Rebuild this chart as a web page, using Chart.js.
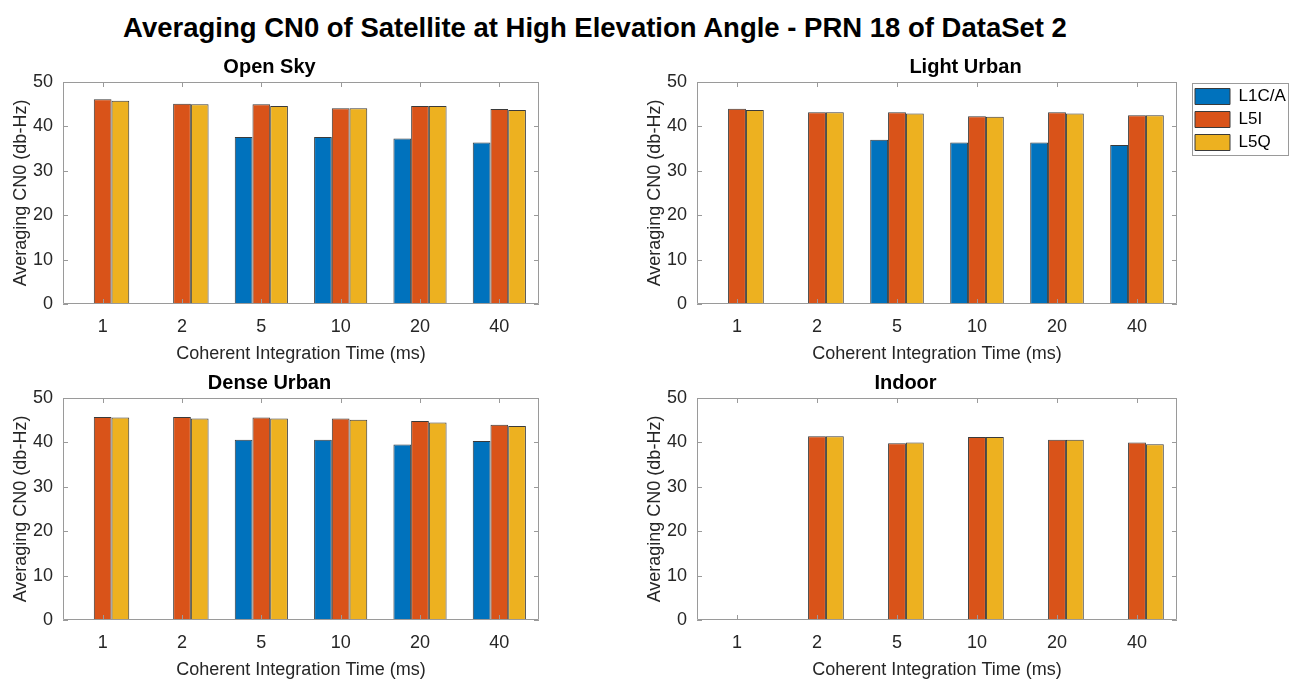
<!DOCTYPE html>
<html>
<head>
<meta charset="utf-8">
<script src="https://cdn.jsdelivr.net/npm/chart.js@4.4.1/dist/chart.umd.min.js"></script>
<style>
  body { margin: 0; background: #fff; width: 1297px; height: 684px; overflow: hidden; position: relative; }
  #title { position: absolute; left: 0; top: 12px; width: 1190px; text-align: center;
    font: bold 27.5px "Liberation Sans", Arial, sans-serif; line-height: 32px; color: #000; }
  .panel { position: absolute; }
</style>
</head>
<body>
<div id="title">Averaging CN0 of Satellite at High Elevation Angle - PRN 18 of DataSet 2</div>
<div class="panel" style="left:0px;top:38px"><canvas id="openSky" width="560" height="328"></canvas></div>
<div class="panel" style="left:634px;top:38px"><canvas id="lightUrban" width="663" height="328"></canvas></div>
<div class="panel" style="left:0px;top:354px"><canvas id="denseUrban" width="560" height="328"></canvas></div>
<div class="panel" style="left:634px;top:354px"><canvas id="indoor" width="663" height="328"></canvas></div>
<script>
// integration times (ms)
const categories = ["1", "2", "5", "10", "20", "40"];
const seriesNames = ["L1C/A", "L5I", "L5Q"];
const seriesColors = ["#0072BD", "#D95319", "#EDB120"];

const openSkyL1 = [null, null, 37.6, 37.6, 37.3, 36.4];
const openSkyL5I = [46.1, 45.1, 45.0, 44.1, 44.6, 43.9];
const openSkyL5Q = [45.8, 45.0, 44.6, 44.1, 44.6, 43.7];

const lightUrbanL1 = [null, null, 37.0, 36.4, 36.4, 35.8];
const lightUrbanL5I = [44.0, 43.2, 43.2, 42.3, 43.2, 42.5];
const lightUrbanL5Q = [43.7, 43.2, 42.9, 42.2, 42.9, 42.5];

const denseUrbanL1 = [null, null, 40.6, 40.6, 39.5, 40.3];
const denseUrbanL5I = [45.7, 45.7, 45.6, 45.4, 44.8, 44.0];
const denseUrbanL5Q = [45.6, 45.4, 45.4, 45.1, 44.5, 43.7];

const indoorL1 = [null, null, null, null, null, null];
const indoorL5I = [null, 41.4, 39.8, 41.2, 40.6, 40.0];
const indoorL5Q = [null, 41.4, 40.0, 41.2, 40.6, 39.6];

const yTicks = [0, 10, 20, 30, 40, 50];

const FONT = "'Liberation Sans', Arial, sans-serif";
const AXIS_COLOR = "#9a9a9a";
const TEXT_COLOR = "#262626";

// matlab style box + inward tick marks
const boxPlugin = {
  id: "matlabBox",
  afterDatasetsDraw(chart) {
    const { ctx, chartArea: a, scales } = chart;
    ctx.save();
    ctx.strokeStyle = AXIS_COLOR;
    ctx.lineWidth = 1;
    ctx.beginPath();
    ctx.rect(a.left + 0.5, a.top + 0.5, a.right - a.left - 1, a.bottom - a.top - 1);
    scales.x.ticks.forEach((t, i) => {
      const x = Math.round(scales.x.getPixelForTick(i)) + 0.5;
      ctx.moveTo(x, a.bottom); ctx.lineTo(x, a.bottom - 5);
      ctx.moveTo(x, a.top); ctx.lineTo(x, a.top + 5);
    });
    scales.y.ticks.forEach((t, i) => {
      const y = Math.round(scales.y.getPixelForTick(i)) + 0.5;
      ctx.moveTo(a.left, y); ctx.lineTo(a.left + 5, y);
      ctx.moveTo(a.right, y); ctx.lineTo(a.right - 5, y);
    });
    ctx.stroke();
    ctx.restore();
  },
  afterDraw(chart) {
    const lg = chart.legend;
    if (!lg || !chart.options.plugins.legend.display || !lg.legendHitBoxes) return;
    const hb = lg.legendHitBoxes;
    let l = Infinity, r = -Infinity, t = Infinity, b = -Infinity;
    hb.forEach(h => {
      l = Math.min(l, h.left); r = Math.max(r, h.left + h.width);
      t = Math.min(t, h.top); b = Math.max(b, h.top + h.height);
    });
    const ctx = chart.ctx;
    ctx.save();
    ctx.strokeStyle = AXIS_COLOR;
    ctx.lineWidth = 1;
    ctx.strokeRect(Math.round(l - 3) + 0.5, Math.round(t - 5) + 0.5, Math.round(r - l + 5), Math.round(b - t + 9));
    ctx.restore();
  }
};

// keep legend outside the plot at a fixed width
const legendSpacePlugin = {
  id: "legendSpace",
  afterInit(chart) {
    const lg = chart.legend;
    if (!lg || !chart.options.plugins.legend.display) return;
    const fit = lg.fit;
    lg.fit = function () { fit.call(this); this.width = 120; };
  },
  afterLayout(chart) {
    const lg = chart.legend;
    if (!lg || !chart.options.plugins.legend.display) return;
    lg.left += 12;
    lg.right += 12;
  }
};

function makeChart(id, title, l1, l5i, l5q, showLegend, rightPad) {
  const values = [l1, l5i, l5q];
  const datasets = seriesNames.map((name, k) => ({
    label: name,
    data: values[k],
    backgroundColor: seriesColors[k],
    borderColor: "#3a3a3a",
    borderWidth: 1,
    barPercentage: 1.0,
    categoryPercentage: 0.67,
  }));
  return new Chart(document.getElementById(id), {
    type: "bar",
    data: { labels: categories, datasets: datasets },
    options: {
      responsive: false,
      animation: false,
      layout: { padding: { left: 0, right: rightPad, top: 0, bottom: 0 } },
      plugins: {
        title: {
          display: true,
          text: title,
          color: "#000",
          font: { family: FONT, size: 20, weight: "bold" },
          padding: { top: 17, bottom: 3 },
        },
        legend: {
          display: showLegend,
          position: "right",
          align: "start",
          fullSize: false,
          labels: {
            boxWidth: 35,
            boxHeight: 16,
            padding: 6,
            color: "#000",
            font: { family: FONT, size: 17 },
          },
        },
        tooltip: { enabled: false },
      },
      scales: {
        x: {
          grid: { display: false, drawTicks: false },
          border: { display: false },
          ticks: { color: TEXT_COLOR, padding: 12, font: { family: FONT, size: 18 } },
          title: {
            display: true,
            text: "Coherent Integration Time (ms)",
            color: TEXT_COLOR,
            font: { family: FONT, size: 18 },
            padding: { top: 0, bottom: 1 },
          },
          afterFit(scale) { scale.height = 62; },
        },
        y: {
          min: 0,
          max: 50,
          afterBuildTicks(scale) { scale.ticks = yTicks.map(v => ({ value: v })); },
          grid: { display: false, drawTicks: false },
          border: { display: false },
          ticks: { color: TEXT_COLOR, padding: 10, font: { family: FONT, size: 18 } },
          title: {
            display: true,
            text: "Averaging CN0 (db-Hz)",
            color: TEXT_COLOR,
            font: { family: FONT, size: 18 },
            padding: { top: 10, bottom: 0 },
          },
          afterFit(scale) { scale.width = 63; },
        },
      },
    },
    plugins: [boxPlugin, legendSpacePlugin],
  });
}

makeChart("openSky", "Open Sky", openSkyL1, openSkyL5I, openSkyL5Q, false, 21);
makeChart("lightUrban", "Light Urban", lightUrbanL1, lightUrbanL5I, lightUrbanL5Q, true, 0);
makeChart("denseUrban", "Dense Urban", denseUrbanL1, denseUrbanL5I, denseUrbanL5Q, false, 21);
makeChart("indoor", "Indoor", indoorL1, indoorL5I, indoorL5Q, false, 120);
</script>
</body>
</html>
